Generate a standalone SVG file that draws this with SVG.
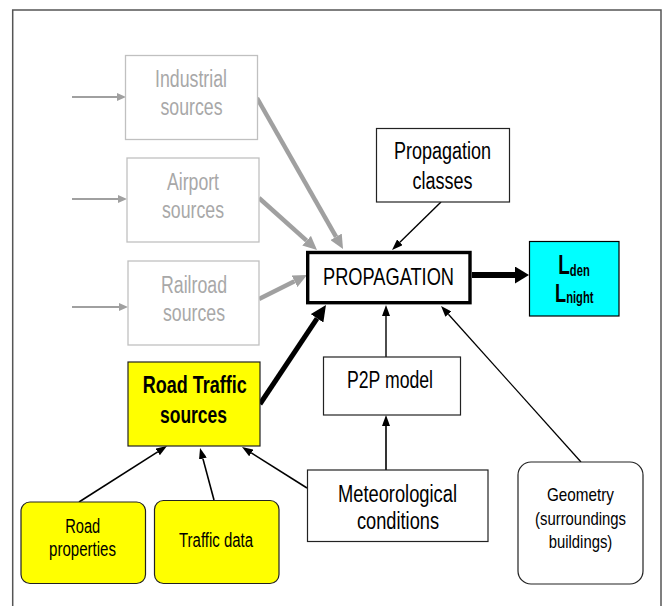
<svg xmlns="http://www.w3.org/2000/svg" width="665" height="606" viewBox="0 0 665 606">
<style>
text{font-family:"Liberation Sans Narrow","Liberation Sans",Arial,sans-serif;text-anchor:middle;fill:#000}
.g text{fill:#a8a8a8;font-size:23px}
.gbox{fill:#fff;stroke:#c0c0c0;stroke-width:1.3}
.box{fill:#fff;stroke:#222;stroke-width:1.2}
.ybox{fill:#ffff00;stroke:#222;stroke-width:1.2}
.t22{font-size:23px}
.t18{font-size:20px}
.t19{font-size:19px}
.b{font-weight:bold}
.gl{stroke:#a0a0a0;fill:none}
.bl{stroke:#000;fill:none}
</style>
<defs>
<marker id="hgs" markerUnits="userSpaceOnUse" viewBox="0 0 9 8" refX="0" refY="4" markerWidth="9" markerHeight="8" orient="auto"><path d="M0,0L9,4L0,8z" fill="#a0a0a0"/></marker>
<marker id="hgt" markerUnits="userSpaceOnUse" viewBox="0 0 14 13" refX="0" refY="6.5" markerWidth="14" markerHeight="13" orient="auto"><path d="M0,0L14,6.5L0,13z" fill="#a0a0a0"/></marker>
<marker id="hb" markerUnits="userSpaceOnUse" viewBox="0 0 11 8" refX="0" refY="4" markerWidth="11" markerHeight="8" orient="auto"><path d="M0,0L11,4L0,8z" fill="#000"/></marker>
<marker id="hbt" markerUnits="userSpaceOnUse" viewBox="0 0 16 15" refX="0" refY="7.5" markerWidth="16" markerHeight="15" orient="auto"><path d="M0,0L16,7.5L0,15z" fill="#000"/></marker>
<marker id="hbo" markerUnits="userSpaceOnUse" viewBox="0 0 14 17" refX="0" refY="8.5" markerWidth="14" markerHeight="17" orient="auto"><path d="M0,0L14,8.5L0,17z" fill="#000"/></marker>
</defs>

<rect id="frame" x="12.7" y="10" width="648.3" height="620" fill="none" stroke="#555" stroke-width="1.5"/>

<g id="connectors">
<line class="gl" stroke-width="2" x1="72" y1="97" x2="117" y2="97" marker-end="url(#hgs)"/>
<line class="gl" stroke-width="2" x1="72" y1="199" x2="118" y2="199" marker-end="url(#hgs)"/>
<line class="gl" stroke-width="2" x1="72" y1="307" x2="119" y2="307" marker-end="url(#hgs)"/>
<line class="gl" stroke-width="4.5" x1="257" y1="98" x2="336.1" y2="236.8" marker-end="url(#hgt)"/>
<line class="gl" stroke-width="4.5" x1="259" y1="198" x2="306.6" y2="240.7" marker-end="url(#hgt)"/>
<line class="gl" stroke-width="4.5" x1="259" y1="299" x2="294.5" y2="281.3" marker-end="url(#hgt)"/>
<line class="bl" stroke-width="5" x1="260" y1="404" x2="317.1" y2="318.3" marker-end="url(#hbt)"/>
<line class="bl" stroke-width="6" x1="472" y1="275" x2="515" y2="275" marker-end="url(#hbo)"/>
<line class="bl" stroke-width="1.4" x1="441" y1="202" x2="399.9" y2="242.3" marker-end="url(#hb)"/>
<line class="bl" stroke-width="1.4" x1="386" y1="357" x2="386" y2="316" marker-end="url(#hb)"/>
<line class="bl" stroke-width="1.6" x1="386" y1="470" x2="386" y2="426" marker-end="url(#hb)"/>
<line class="bl" stroke-width="1.6" x1="307" y1="488" x2="251.3" y2="452.9" marker-end="url(#hb)"/>
<line class="bl" stroke-width="1.6" x1="79" y1="502" x2="157.7" y2="451.9" marker-end="url(#hb)"/>
<line class="bl" stroke-width="1.6" x1="214" y1="500" x2="202.9" y2="458.6" marker-end="url(#hb)"/>
<line class="bl" stroke-width="1.3" x1="581" y1="462" x2="448.4" y2="314.2" marker-end="url(#hb)"/>
</g>

<g id="industrial" class="g">
<rect class="gbox" x="125.5" y="55.5" width="132" height="84"/>
<text x="191" y="87" textLength="72" lengthAdjust="spacingAndGlyphs">Industrial</text>
<text x="191.5" y="115" textLength="62" lengthAdjust="spacingAndGlyphs">sources</text>
</g>

<g id="airport" class="g">
<rect class="gbox" x="127" y="158" width="132" height="84"/>
<text x="193" y="190" textLength="52" lengthAdjust="spacingAndGlyphs">Airport</text>
<text x="193" y="218" textLength="62" lengthAdjust="spacingAndGlyphs">sources</text>
</g>

<g id="railroad" class="g">
<rect class="gbox" x="128" y="261" width="131" height="84"/>
<text x="194" y="293" textLength="66" lengthAdjust="spacingAndGlyphs">Railroad</text>
<text x="194" y="321" textLength="62" lengthAdjust="spacingAndGlyphs">sources</text>
</g>

<g id="propagation-classes">
<rect class="box" x="376.5" y="128.5" width="133" height="73.5"/>
<text class="t22" x="442.5" y="159" textLength="97" lengthAdjust="spacingAndGlyphs">Propagation</text>
<text class="t22" x="442.5" y="189" textLength="60" lengthAdjust="spacingAndGlyphs">classes</text>
</g>

<g id="propagation">
<rect x="307.7" y="252.5" width="162.3" height="50.2" fill="#fff" stroke="#000" stroke-width="3.4"/>
<text x="388.5" y="285" font-size="24.5" textLength="131" lengthAdjust="spacingAndGlyphs">PROPAGATION</text>
</g>

<g id="lden">
<rect x="529.5" y="241.5" width="89.5" height="74.5" fill="#00ffff" stroke="#000" stroke-width="1.2"/>
<g transform="translate(558.3,274) scale(0.7,1)">
<text x="0" y="0" class="b" style="text-anchor:start" font-size="27">L<tspan font-size="16" dy="2">den</tspan></text>
</g>
<g transform="translate(555,301.7) scale(0.7,1)">
<text x="0" y="0" class="b" style="text-anchor:start" font-size="26">L<tspan font-size="16" dy="1.6">night</tspan></text>
</g>
</g>

<g id="road-traffic">
<rect class="ybox" x="128" y="362" width="132" height="84"/>
<text class="t22 b" x="194.7" y="392.7" textLength="104" lengthAdjust="spacingAndGlyphs">Road Traffic</text>
<text class="t22 b" x="193.5" y="423" textLength="67" lengthAdjust="spacingAndGlyphs">sources</text>
</g>

<g id="p2p">
<rect class="box" x="323.5" y="357" width="137" height="58"/>
<text class="t22" x="390" y="388" textLength="86" lengthAdjust="spacingAndGlyphs">P2P model</text>
</g>

<g id="meteorological">
<rect class="box" x="307.5" y="470" width="180.5" height="71.5"/>
<text class="t22" x="397.5" y="501.5" textLength="119" lengthAdjust="spacingAndGlyphs">Meteorological</text>
<text class="t22" x="398" y="529" textLength="82" lengthAdjust="spacingAndGlyphs">conditions</text>
</g>

<g id="road-properties">
<rect class="ybox" x="21" y="502" width="124.5" height="81.5" rx="9"/>
<text class="t18" x="82.7" y="533" textLength="35" lengthAdjust="spacingAndGlyphs">Road</text>
<text class="t18" x="82.5" y="556" textLength="67" lengthAdjust="spacingAndGlyphs">properties</text>
</g>

<g id="traffic-data">
<rect class="ybox" x="154.5" y="500.5" width="124.5" height="83" rx="9"/>
<text class="t18" x="216" y="546.7" textLength="74" lengthAdjust="spacingAndGlyphs">Traffic data</text>
</g>

<g id="geometry">
<rect class="box" x="518" y="462" width="125" height="122" rx="13"/>
<text class="t19" x="580.5" y="501" textLength="67" lengthAdjust="spacingAndGlyphs">Geometry</text>
<text class="t19" x="580.5" y="525" textLength="91" lengthAdjust="spacingAndGlyphs">(surroundings</text>
<text class="t19" x="580.5" y="548" textLength="63.5" lengthAdjust="spacingAndGlyphs">buildings)</text>
</g>
</svg>
